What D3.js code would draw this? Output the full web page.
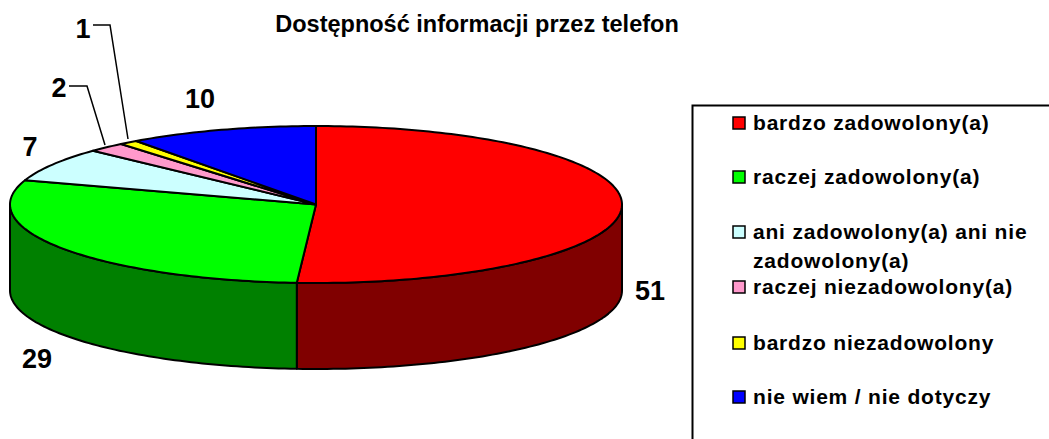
<!DOCTYPE html>
<html>
<head>
<meta charset="utf-8">
<title>Dostępność informacji przez telefon</title>
<script src="https://cdn.jsdelivr.net/npm/d3@7"></script>
<style>
  html, body { margin: 0; padding: 0; background: #fff; overflow: hidden; }
  text { font-family: "Liberation Sans", Arial, sans-serif; font-weight: bold; fill: #000; }
</style>
</head>
<body>
<div id="chart"></div>
<script>
var title = "Dostępność informacji przez telefon";
var categories = ["bardzo zadowolony(a)", "raczej zadowolony(a)", "ani zadowolony(a) ani nie zadowolony(a)",
    "raczej niezadowolony(a)", "bardzo niezadowolony", "nie wiem / nie dotyczy"];
var values = [51, 29, 7, 2, 1, 10];
var topColors = ["#ff0000", "#00ff00", "#ccffff", "#ff99cc", "#ffff00", "#0000ff"];
var sideColors = ["#800000", "#008000", "#669999", "#993366", "#808000", "#000080"];

var width = 1049, height = 439;

var svg = d3.select("#chart").append("svg")
    .attr("width", width)
    .attr("height", height);

// pie is an ellipse, squashed by hand since there is no 3d in d3
var cx = 316, cy = 204.5, rx = 306, ry = 78.5, depth = 86;

var xPos = d3.scaleLinear().domain([-1, 1]).range([cx - rx, cx + rx]);
var yPos = d3.scaleLinear().domain([-1, 1]).range([cy - ry, cy + ry]);

var line = d3.line();

var slices = d3.pie().sort(null).value(function(d) { return d; })(values);

function rim(a0, a1) {
    var n = Math.max(2, Math.ceil((a1 - a0) / 0.02));
    return d3.range(n + 1).map(function(i) {
        var a = a0 + (a1 - a0) * i / n;
        return [xPos(Math.sin(a)), yPos(-Math.cos(a))];
    });
}

function wallPath(d) {
    // only the front half of the rim is seen
    var a0 = Math.max(d.startAngle, Math.PI / 2),
        a1 = Math.min(d.endAngle, Math.PI * 1.5);
    if (a1 <= a0) return null;
    var upper = rim(a0, a1);
    var lower = upper.map(function(p) { return [p[0], p[1] + depth]; }).reverse();
    return line(upper.concat(lower)) + "Z";
}

function topPath(d) {
    return line([[cx, cy]].concat(rim(d.startAngle, d.endAngle))) + "Z";
}

var pieGroup = svg.append("g");

pieGroup.selectAll("path.wall")
    .data(slices)
    .enter().append("path")
    .attr("class", "wall")
    .attr("d", wallPath)
    .attr("fill", function(d, i) { return sideColors[i]; })
    .attr("stroke", "#000")
    .attr("stroke-width", 2)
    .attr("stroke-linejoin", "round");

pieGroup.selectAll("path.top")
    .data(slices)
    .enter().append("path")
    .attr("class", "top")
    .attr("d", topPath)
    .attr("fill", function(d, i) { return topColors[i]; })
    .attr("stroke", "#000")
    .attr("stroke-width", 2)
    .attr("stroke-linejoin", "round");

svg.append("text")
    .attr("x", 477)
    .attr("y", 32)
    .attr("text-anchor", "middle")
    .style("font-size", "23.5px")
    .text(title);

// value labels, placed by eye
var labelPos = [[650, 300], [37, 368], [30, 156], [59, 97], [83, 38], [200, 108]];

svg.selectAll("text.value")
    .data(values)
    .enter().append("text")
    .attr("class", "value")
    .attr("x", function(d, i) { return labelPos[i][0]; })
    .attr("y", function(d, i) { return labelPos[i][1]; })
    .attr("text-anchor", "middle")
    .style("font-size", "27px")
    .text(function(d) { return d; });

// leader lines for the two thin slices
var leaders = [
    [[69, 86], [87, 86], [105, 145]],
    [[93, 25], [110, 25], [128, 139]]
];

svg.selectAll("path.leader")
    .data(leaders)
    .enter().append("path")
    .attr("class", "leader")
    .attr("d", function(d) { return line(d); })
    .attr("fill", "none")
    .attr("stroke", "#000")
    .attr("stroke-width", 1.5);

// legend box runs off the right and bottom of the picture
svg.append("path")
    .attr("d", line([[692.5, height], [692.5, 105.5], [width, 105.5]]))
    .attr("fill", "none")
    .attr("stroke", "#000")
    .attr("stroke-width", 2);

var legendRows = [130, 184, 239, 294, 350, 404];
var legendLines = [
    ["bardzo zadowolony(a)"],
    ["raczej zadowolony(a)"],
    ["ani zadowolony(a) ani nie", "zadowolony(a)"],
    ["raczej niezadowolony(a)"],
    ["bardzo niezadowolony"],
    ["nie wiem / nie dotyczy"]
];

var legend = svg.selectAll("g.legend")
    .data(categories)
    .enter().append("g")
    .attr("class", "legend")
    .attr("transform", function(d, i) { return "translate(0," + legendRows[i] + ")"; });

legend.append("rect")
    .attr("x", 733)
    .attr("y", -13)
    .attr("width", 12)
    .attr("height", 12)
    .attr("fill", function(d, i) { return topColors[i]; })
    .attr("stroke", "#000")
    .attr("stroke-width", 1.5);

legend.selectAll("text")
    .data(function(d, i) { return legendLines[i]; })
    .enter().append("text")
    .attr("x", 753)
    .attr("y", function(d, i) { return i * 29; })
    .style("font-size", "21px")
    .style("letter-spacing", "0.8px")
    .text(function(d) { return d; });
</script>
</body>
</html>
